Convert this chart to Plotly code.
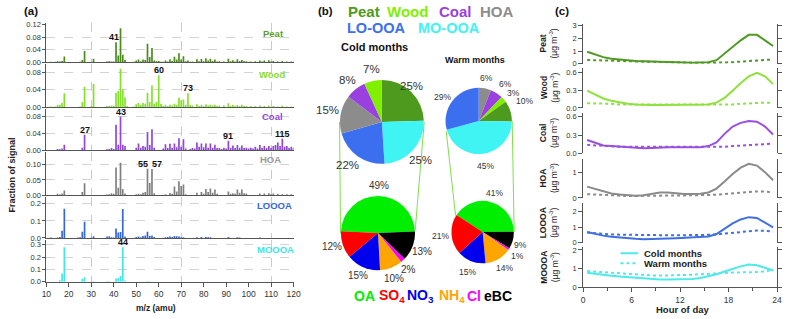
import plotly.graph_objects as go

W, H = 791, 319
FONT = "Liberation Sans, Arial, sans-serif"

# ---------------- DATA ----------------
# Panel (a): factor mass spectra (m/z -> fraction of signal)
factors = ["Peat", "Wood", "Coal", "HOA", "LOOOA", "MOOOA"]

peat_ms = {12: 0.002, 14: 0.002, 15: 0.004, 16: 0.003, 17: 0.005, 18: 0.019,
           25: 0.002, 26: 0.008, 27: 0.036, 30: 0.002, 31: 0.012,
           37: 0.003, 38: 0.004, 39: 0.003, 40: 0.003, 41: 0.064, 42: 0.022, 43: 0.108, 44: 0.024, 45: 0.008,
           49: 0.002, 50: 0.006, 51: 0.009, 52: 0.004, 53: 0.009, 54: 0.008, 55: 0.059, 56: 0.017, 57: 0.046,
           58: 0.006, 59: 0.004, 60: 0.005, 61: 0.002, 62: 0.002, 63: 0.006, 64: 0.003, 65: 0.010, 66: 0.005,
           67: 0.018, 68: 0.009, 69: 0.029, 70: 0.009, 71: 0.020, 72: 0.004, 73: 0.006, 74: 0.002, 75: 0.003,
           77: 0.010, 78: 0.004, 79: 0.011, 80: 0.004, 81: 0.013, 82: 0.006, 83: 0.012, 84: 0.005, 85: 0.009,
           86: 0.003, 87: 0.004, 89: 0.003, 91: 0.012, 92: 0.004, 93: 0.007, 94: 0.003, 95: 0.010, 96: 0.005,
           97: 0.008, 98: 0.004, 99: 0.004, 101: 0.003, 103: 0.004, 105: 0.006, 106: 0.003, 107: 0.006,
           109: 0.007, 110: 0.003, 111: 0.005, 113: 0.003, 115: 0.005, 117: 0.003, 119: 0.003, 120: 0.002}

wood_ms = {12: 0.002, 14: 0.002, 15: 0.006, 16: 0.006, 17: 0.010, 18: 0.032,
           25: 0.002, 26: 0.012, 27: 0.047, 30: 0.003, 31: 0.053,
           37: 0.003, 38: 0.003, 39: 0.004, 40: 0.003, 41: 0.033, 42: 0.037, 43: 0.088, 44: 0.040, 45: 0.023,
           46: 0.003, 49: 0.002, 50: 0.007, 51: 0.010, 52: 0.005, 53: 0.010, 54: 0.008, 55: 0.033, 56: 0.012,
           57: 0.050, 58: 0.008, 59: 0.012, 60: 0.073, 61: 0.008, 62: 0.003, 63: 0.006, 64: 0.003, 65: 0.006,
           66: 0.004, 67: 0.008, 68: 0.005, 69: 0.022, 70: 0.016, 71: 0.018, 72: 0.006, 73: 0.032, 74: 0.005,
           75: 0.004, 77: 0.007, 78: 0.003, 79: 0.006, 80: 0.003, 81: 0.007, 82: 0.004, 83: 0.006, 84: 0.004,
           85: 0.006, 86: 0.003, 87: 0.004, 89: 0.004, 91: 0.009, 92: 0.003, 93: 0.005, 94: 0.003, 95: 0.005,
           96: 0.003, 97: 0.006, 98: 0.003, 99: 0.003, 101: 0.003, 103: 0.003, 105: 0.004, 107: 0.003,
           109: 0.004, 111: 0.003, 113: 0.002, 115: 0.004, 117: 0.002, 119: 0.002}

coal_ms = {15: 0.003, 16: 0.002, 17: 0.004, 18: 0.013, 26: 0.006, 27: 0.036,
           37: 0.002, 38: 0.003, 39: 0.005, 40: 0.003, 41: 0.060, 42: 0.013, 43: 0.079, 44: 0.013, 45: 0.010,
           50: 0.006, 51: 0.016, 52: 0.006, 53: 0.010, 54: 0.008, 55: 0.043, 56: 0.012, 57: 0.049, 58: 0.006,
           62: 0.004, 63: 0.014, 64: 0.005, 65: 0.015, 66: 0.006, 67: 0.016, 68: 0.007, 69: 0.028, 70: 0.008,
           71: 0.026, 72: 0.004, 74: 0.003, 75: 0.005, 76: 0.004, 77: 0.018, 78: 0.008, 79: 0.016, 80: 0.007,
           81: 0.016, 82: 0.006, 83: 0.016, 84: 0.006, 85: 0.013, 86: 0.005, 87: 0.005, 88: 0.003, 89: 0.006,
           90: 0.004, 91: 0.022, 92: 0.006, 93: 0.011, 94: 0.005, 95: 0.012, 96: 0.006, 97: 0.011, 98: 0.005,
           99: 0.006, 100: 0.004, 101: 0.006, 102: 0.004, 103: 0.008, 104: 0.004, 105: 0.012, 106: 0.005,
           107: 0.010, 108: 0.005, 109: 0.010, 110: 0.005, 111: 0.010, 112: 0.012, 113: 0.018, 114: 0.010,
           115: 0.027, 116: 0.008, 117: 0.010, 118: 0.005, 119: 0.008, 120: 0.006}

hoa_ms = {15: 0.004, 16: 0.002, 17: 0.005, 18: 0.015, 26: 0.010, 27: 0.039,
          37: 0.002, 38: 0.003, 39: 0.006, 40: 0.004, 41: 0.091, 42: 0.024, 43: 0.107, 44: 0.020, 45: 0.005,
          50: 0.003, 51: 0.004, 52: 0.003, 53: 0.008, 54: 0.010, 55: 0.087, 56: 0.040, 57: 0.086, 58: 0.006,
          63: 0.003, 65: 0.007, 66: 0.004, 67: 0.028, 68: 0.012, 69: 0.046, 70: 0.030, 71: 0.035, 72: 0.003,
          77: 0.008, 79: 0.010, 80: 0.004, 81: 0.020, 82: 0.010, 83: 0.022, 84: 0.008, 85: 0.018, 86: 0.004,
          91: 0.012, 92: 0.004, 93: 0.006, 94: 0.004, 95: 0.018, 96: 0.008, 97: 0.018, 98: 0.006, 99: 0.005,
          105: 0.005, 107: 0.005, 109: 0.006, 110: 0.003, 111: 0.005, 113: 0.004, 115: 0.003, 117: 0.003,
          119: 0.003}

looa_ms = {12: 0.003, 15: 0.002, 16: 0.006, 17: 0.042, 18: 0.171, 24: 0.002, 25: 0.004, 26: 0.036,
           27: 0.095, 30: 0.003, 31: 0.010, 37: 0.008, 38: 0.010, 39: 0.004, 40: 0.002, 41: 0.055,
           42: 0.032, 43: 0.035, 44: 0.170, 45: 0.008, 50: 0.006, 51: 0.008, 52: 0.004, 53: 0.012,
           54: 0.015, 55: 0.036, 56: 0.012, 57: 0.014, 58: 0.005, 63: 0.004, 64: 0.006, 65: 0.008,
           66: 0.005, 67: 0.012, 68: 0.010, 69: 0.008, 70: 0.004, 71: 0.004, 77: 0.004, 79: 0.005,
           81: 0.006, 82: 0.004, 83: 0.004, 91: 0.005, 95: 0.004, 96: 0.003, 105: 0.003}

mooa_ms = {16: 0.012, 17: 0.068, 18: 0.280, 25: 0.003, 26: 0.025, 27: 0.037, 30: 0.002, 31: 0.005,
           37: 0.004, 38: 0.004, 40: 0.002, 41: 0.027, 42: 0.030, 43: 0.048, 44: 0.280, 45: 0.010,
           53: 0.003, 54: 0.003, 55: 0.006, 56: 0.002, 57: 0.003}

spectra = [peat_ms, wood_ms, coal_ms, hoa_ms, looa_ms, mooa_ms]

# labelled peaks (factor index, m/z)
peak_labels = [(0, 41), (1, 60), (1, 73), (2, 27), (2, 43), (2, 91), (2, 115), (3, 55), (3, 57), (5, 44)]

# Panel (b): pie charts
src_cold_labels = ["Peat", "MO-OOA", "LO-OOA", "HOA", "Coal", "Wood"]
src_cold_pct = [25, 25, 22, 15, 8, 7]
src_warm_labels = ["HOA", "Coal", "Wood", "Peat", "MO-OOA", "LO-OOA"]
src_warm_pct = [6, 6, 3, 10, 45, 29]
comp_labels = ["OA", "eBC", "Cl", "NH4", "NO3", "SO4"]
comp_cold_pct = [49, 13, 2, 10, 15, 12]
comp_warm_pct = [41, 9, 1, 14, 15, 21]

# Panel (c): diurnal cycles (µg m-3), hourly means
hours = [h + 0.5 for h in range(24)]
peat_cold = [0.95, 0.72, 0.52, 0.40, 0.32, 0.26, 0.22, 0.19, 0.16, 0.13, 0.11, 0.10, 0.09, 0.08, 0.09, 0.12,
             0.28, 0.80, 1.35, 1.85, 2.28, 2.28, 1.85, 1.40]
peat_warm = [0.30, 0.29, 0.27, 0.25, 0.22, 0.20, 0.18, 0.16, 0.14, 0.12, 0.11, 0.10, 0.09, 0.08, 0.07, 0.07,
             0.07, 0.08, 0.12, 0.17, 0.22, 0.27, 0.31, 0.34]
wood_cold = [0.29, 0.22, 0.16, 0.12, 0.09, 0.07, 0.06, 0.05, 0.05, 0.05, 0.05, 0.05, 0.05, 0.05, 0.05, 0.06,
             0.09, 0.17, 0.29, 0.42, 0.53, 0.59, 0.53, 0.40]
wood_warm = [0.08, 0.08, 0.07, 0.07, 0.06, 0.06, 0.06, 0.05, 0.05, 0.05, 0.05, 0.05, 0.05, 0.05, 0.05, 0.05,
             0.05, 0.06, 0.06, 0.07, 0.08, 0.08, 0.09, 0.09]
coal_cold = [0.22, 0.17, 0.13, 0.12, 0.11, 0.10, 0.09, 0.085, 0.09, 0.10, 0.10, 0.10, 0.10, 0.10, 0.10, 0.12,
             0.18, 0.32, 0.44, 0.50, 0.53, 0.52, 0.44, 0.31]
coal_warm = [0.14, 0.13, 0.12, 0.12, 0.11, 0.11, 0.11, 0.10, 0.10, 0.10, 0.10, 0.10, 0.10, 0.10, 0.10, 0.10,
             0.10, 0.11, 0.12, 0.13, 0.14, 0.15, 0.16, 0.16]
hoa_cold = [0.45, 0.35, 0.25, 0.18, 0.14, 0.10, 0.09, 0.11, 0.16, 0.22, 0.22, 0.18, 0.16, 0.16, 0.17, 0.22,
            0.37, 0.65, 0.95, 1.20, 1.35, 1.28, 1.02, 0.70]
hoa_warm = [0.15, 0.13, 0.11, 0.10, 0.09, 0.08, 0.08, 0.09, 0.10, 0.10, 0.10, 0.10, 0.10, 0.10, 0.11, 0.12,
            0.13, 0.15, 0.18, 0.21, 0.24, 0.26, 0.25, 0.22]
looa_cold = [0.68, 0.55, 0.45, 0.38, 0.32, 0.27, 0.24, 0.22, 0.22, 0.24, 0.26, 0.28, 0.30, 0.32, 0.35, 0.40,
             0.55, 0.90, 1.25, 1.50, 1.65, 1.60, 1.30, 0.98]
looa_warm = [0.65, 0.60, 0.56, 0.53, 0.51, 0.50, 0.49, 0.48, 0.47, 0.47, 0.47, 0.47, 0.48, 0.48, 0.49, 0.50,
             0.53, 0.58, 0.65, 0.72, 0.76, 0.78, 0.76, 0.72]
mooa_cold = [0.78, 0.72, 0.67, 0.62, 0.58, 0.54, 0.50, 0.46, 0.43, 0.42, 0.42, 0.42, 0.43, 0.45, 0.50, 0.58,
             0.70, 0.85, 1.00, 1.12, 1.22, 1.18, 1.05, 0.90]
mooa_warm = [0.87, 0.84, 0.80, 0.77, 0.73, 0.70, 0.67, 0.65, 0.64, 0.63, 0.63, 0.64, 0.66, 0.68, 0.71, 0.74,
             0.76, 0.78, 0.79, 0.80, 0.80, 0.82, 0.86, 0.92]
diurnal_cold = [peat_cold, wood_cold, coal_cold, hoa_cold, looa_cold, mooa_cold]
diurnal_warm = [peat_warm, wood_warm, coal_warm, hoa_warm, looa_warm, mooa_warm]
diurnal_names = ["Peat", "Wood", "Coal", "HOA", "LOOOA", "MOOOA"]

# ---------------- STYLE ----------------
bar_colors = ["#4a8c1c", "#84e02a", "#9146d9", "#808080", "#3567d8", "#3ee6e6"]
lbl_colors = ["#5c9e2e", "#86e02e", "#9146d9", "#999999", "#3567d8", "#3ee6e6"]
line_colors = ["#4f9a23", "#8de33c", "#9b4fe0", "#8a8a8a", "#3f6fe0", "#4deaea"]
src_colors = {"Peat": "#4e9a1e", "Wood": "#80f000", "Coal": "#9a3fe0", "HOA": "#8c8c8c",
              "LO-OOA": "#3b6ff0", "MO-OOA": "#40f4f4"}
comp_colors = {"OA": "#00ee00", "SO4": "#ff0000", "NO3": "#0000ee", "NH4": "#ffa500",
               "Cl": "#ff00ff", "eBC": "#000000"}


def fx(p):
    return p / W


def fy(p):
    return 1 - p / H


fig = go.Figure()
layout = dict(width=W, height=H, margin=dict(l=0, r=0, t=0, b=0), autosize=False,
              paper_bgcolor="white", plot_bgcolor="white", showlegend=False,
              font=dict(family=FONT, size=9, color="#333"))
annotations = []
shapes = []


def ann(text, x, y, size=9, color="#222", bold=False, angle=0, xanchor="center", yanchor="middle", **kw):
    t = f"<b>{text}</b>" if bold else text
    annotations.append(dict(text=t, x=fx(x), y=fy(y), xref="paper", yref="paper", showarrow=False,
                            font=dict(size=size, color=color, family=FONT), textangle=angle,
                            xanchor=xanchor, yanchor=yanchor, **kw))


# ---------------- Panel (a) ----------------
a_dom = [(21, 61), (63, 107), (109, 151), (153, 197), (199, 241), (243, 286)]
a_max = [0.123, 0.0978, 0.096, 0.142, 0.24, 0.339]
a_ticks = [[0, 0.04, 0.08, 0.12], [0, 0.04, 0.08], [0, 0.04, 0.08], [0, 0.05, 0.10], [0, 0.1, 0.2],
           [0, 0.1, 0.2, 0.3]]
a_fmt = [".2f", ".2f", ".2f", ".2f", ".1f", ".1f"]
a_name_pos = [(273, 31), (271, 73), (272, 116), (270, 161), (274, 208), (275, 253)]

for i in range(6):
    n = i + 1
    xs = sorted(spectra[i])
    ys = [spectra[i][k] for k in xs]
    fig.add_trace(go.Bar(x=xs, y=ys, width=0.75, marker=dict(color=bar_colors[i], line=dict(width=0)),
                         xaxis=f"x{n}", yaxis=f"y{n}", hoverinfo="skip"))
    bottom = i == 5
    xa = dict(domain=[fx(42), fx(293)], range=[10, 120], anchor=f"y{n}", showline=True, linecolor="#555",
              linewidth=1, zeroline=False, showgrid=False,
              minor=dict(tickvals=[30, 70, 110], showgrid=True, gridcolor="#bdbdbd", griddash="dash",
                         gridwidth=0.8, ticks=""))
    if bottom:
        xa.update(tickvals=list(range(10, 121, 10)), ticks="outside", ticklen=4, tickcolor="#555",
                  tickfont=dict(size=8.5, color="#333"), showticklabels=True)
    else:
        xa.update(ticks="", showticklabels=False)
    layout[f"xaxis{n}"] = xa
    top, bot = a_dom[i]
    layout[f"yaxis{n}"] = dict(domain=[fy(bot), fy(top)], range=[0, a_max[i]], anchor=f"x{n}",
                               tickvals=a_ticks[i], tickformat=a_fmt[i], ticks="outside", ticklen=3,
                               tickcolor="#555", showline=True, linecolor="#555", linewidth=1,
                               showgrid=True, gridcolor="#c8c8c8", griddash="dash", gridwidth=0.8,
                               zeroline=False, tickfont=dict(size=7.5, color="#333"))
    ann(factors[i], a_name_pos[i][0], a_name_pos[i][1], size=9.5, color=lbl_colors[i], bold=True)

label_shift = {41: -2, 55: -4, 57: 5}
for fi, mz in peak_labels:
    n = fi + 1
    annotations.append(dict(text=f"<b>{mz}</b>", x=mz, y=spectra[fi][mz], xref=f"x{n}", yref=f"y{n}",
                            showarrow=False, yanchor="bottom", xanchor="center",
                            xshift=label_shift.get(mz, 0), yshift=-2,
                            font=dict(size=9, color="#111", family=FONT)))

ann("(a)", 26, 8, size=11.5, color="#111", bold=True)
ann("Fraction of signal", 7, 176, size=9, color="#222", bold=True, angle=-90)
ann("m/z (amu)", 153, 313, size=8.5, color="#222", bold=True)

# ---------------- Panel (b) ----------------
ann("(b)", 325, 8, size=11.5, color="#111", bold=True)
for word, cx in [("Peat", 365), ("Wood", 409), ("Coal", 457), ("HOA", 500)]:
    ann(word, cx, 9, size=15, color=src_colors[word], bold=True)
for word, cx in [("LO-OOA", 377), ("MO-OOA", 451)]:
    ann(word, cx, 26, size=14.5, color=src_colors[word], bold=True)
ann("Cold months", 375, 45, size=11, color="#111", bold=True)
ann("Warm months", 477, 58, size=9, color="#111", bold=True)


def pie(labels, values, colors, cx, cy, r, rotation):
    fig.add_trace(go.Pie(labels=labels, values=values, sort=False, direction="clockwise",
                         rotation=rotation, textinfo="none", hoverinfo="skip",
                         marker=dict(colors=colors, line=dict(width=0)),
                         domain=dict(x=[fx(cx - r), fx(cx + r)], y=[fy(cy + r), fy(cy - r)])))


pie(src_cold_labels, src_cold_pct, [src_colors[k] for k in src_cold_labels], 382.7, 122, 43, 0)
pie(src_warm_labels, src_warm_pct, [src_colors[k] for k in src_warm_labels], 481, 121, 34, 0)
pie(comp_labels, comp_cold_pct, [comp_colors[k] for k in comp_labels], 378.7, 236, 38, -87)
pie(comp_labels, comp_warm_pct, [comp_colors[k] for k in comp_labels], 485, 235, 32, -57)

cold_src_pos = [(413, 85), (422, 161), (348, 166), (327, 110), (348, 79), (372, 68)]
warm_src_pos = [(489, 77), (508, 83), (516, 92), (527, 101), (488, 167), (444, 96)]
cold_comp_pos = [(380, 187), (423, 255), (410, 273), (395, 283), (358, 280), (332, 250)]
warm_comp_pos = [(497, 195), (523, 248), (520, 260), (507, 272), (470, 276), (442, 239)]
for vals, pos, size in [(src_cold_pct, cold_src_pos, 11.5), (src_warm_pct, warm_src_pos, 8.5),
                        (comp_cold_pct, cold_comp_pos, 10), (comp_warm_pct, warm_comp_pos, 8.5)]:
    for v, (px_, py_) in zip(vals, pos):
        ann(f"{v}%", px_, py_, size=size, color="#333")

# connector lines
for (x0, y0, x1, y1) in [(339.7, 122, 340.7, 236), (425.7, 122, 416.5, 233),
                         (448, 131.5, 457.5, 218), (515, 121, 517, 235)]:
    shapes.append(dict(type="line", xref="paper", yref="paper", x0=fx(x0), y0=fy(y0), x1=fx(x1), y1=fy(y1),
                       line=dict(color="#7ee04a", width=1)))

for word, cx in [("OA", 365), ("SO<sub>4</sub>", 392.5), ("NO<sub>3</sub>", 422),
                 ("NH<sub>4</sub>", 453.5), ("Cl", 476), ("eBC", 500.5)]:
    key = word.replace("<sub>", "").replace("</sub>", "")
    ann(word, cx, 301, size=14, color=comp_colors[key], bold=True)

# ---------------- Panel (c) ----------------
ann("(c)", 566, 8, size=11.5, color="#111", bold=True)
c_dom = [(21.5, 62.3), (66.7, 107.7), (113, 154.3), (160, 200), (205, 245.7), (250, 291.7)]
c_max = [3.14, 0.67, 0.659, 1.54, 2.58, 2.17]
c_ticks = [[0, 1, 2, 3], [0, 0.3, 0.6], [0, 0.3, 0.6], [0, 1], [0, 1, 2], [0, 1, 2]]
c_fmt = ["d", ".1f", ".1f", "d", "d", "d"]
for i in range(6):
    n = i + 7
    fig.add_trace(go.Scatter(x=hours, y=diurnal_cold[i], mode="lines",
                             line=dict(color=line_colors[i], width=2),
                             xaxis=f"x{n}", yaxis=f"y{n}", hoverinfo="skip"))
    fig.add_trace(go.Scatter(x=hours, y=diurnal_warm[i], mode="lines",
                             line=dict(color=line_colors[i], width=2, dash="dot"),
                             xaxis=f"x{n}", yaxis=f"y{n}", hoverinfo="skip"))
    bottom = i == 5
    xa = dict(domain=[fx(587), fx(784)], range=[0, 24], anchor=f"y{n}", zeroline=False, showgrid=False)
    if bottom:
        xa.update(showline=True, linecolor="#555", ticks="outside", ticklen=4, tickcolor="#555",
                  tickvals=[0, 6, 12, 18, 24],
                  minor=dict(tickvals=[3, 9, 15, 21], ticks="outside", ticklen=3, tickcolor="#555"),
                  tickfont=dict(size=8.5, color="#333"))
    else:
        xa.update(showline=False, ticks="", showticklabels=False)
    layout[f"xaxis{n}"] = xa
    top, bot = c_dom[i]
    layout[f"yaxis{n}"] = dict(domain=[fy(bot), fy(top)], range=[0, c_max[i]], anchor=f"x{n}",
                               tickvals=c_ticks[i], tickformat=c_fmt[i], ticks="outside", ticklen=4,
                               tickcolor="#555", showline=True, linecolor="#555", linewidth=1,
                               mirror="ticks", showgrid=False, zeroline=False,
                               tickfont=dict(size=7.5, color="#333"))
    ann(f"<b>{diurnal_names[i]}</b><br>(µg m<sup>-3</sup>)", 552, (top + bot) / 2, size=8.5,
        color="#222", angle=-90)

ann("Hour of day", 688, 314, size=9.5, color="#222", bold=True)

# legend for (c)
for yy, dash, text in [(256.7, "solid", "Cold months"), (267, "dot", "Warm months")]:
    shapes.append(dict(type="line", xref="paper", yref="paper", x0=fx(625), x1=fx(643), y0=fy(yy), y1=fy(yy),
                       line=dict(color=line_colors[5], width=2, dash=dash)))
    ann(text, 647, yy, size=9.5, color="#222", bold=True, xanchor="left")

layout["annotations"] = annotations
layout["shapes"] = shapes
fig.update_layout(**layout)
fig.write_html("out.html", config={"displayModeBar": False, "staticPlot": True},
               post_script="document.body.style.margin='0';document.body.style.padding='0';"
                           "document.body.style.overflow='hidden';")
